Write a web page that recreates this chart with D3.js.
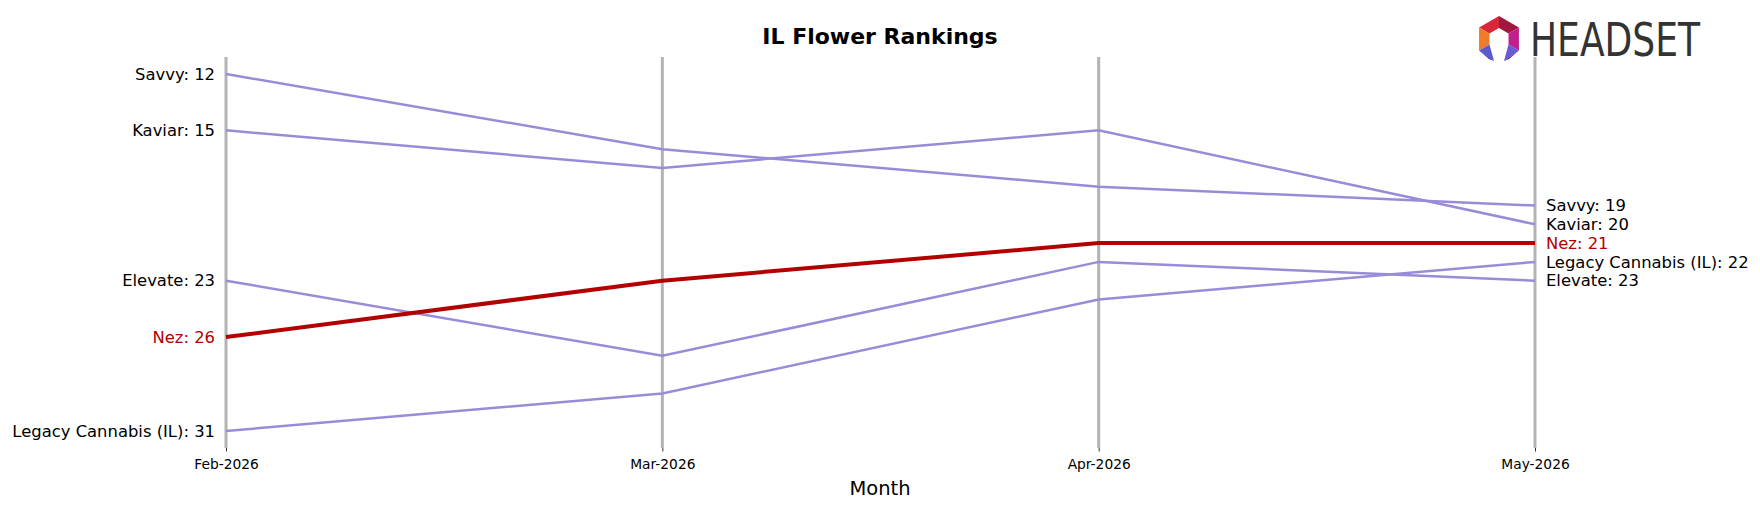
<!DOCTYPE html>
<html lang="en">
<head>
<meta charset="utf-8">
<title>IL Flower Rankings</title>
<script src="https://d3js.org/d3.v7.min.js"></script>
<style>
  body { margin: 0; background: #fff; }
  text { font-family: "DejaVu Sans", sans-serif; }
</style>
</head>
<body>
<svg id="chart"></svg>
<script>
    const months = ["Feb-2026", "Mar-2026", "Apr-2026", "May-2026"];
    const brands = ["Savvy", "Kaviar", "Elevate", "Nez", "Legacy Cannabis (IL)"];
    const savvyRanks = [12, 16, 18, 19];
    const kaviarRanks = [15, 17, 15, 20];
    const elevateRanks = [23, 27, 22, 23];
    const nezRanks = [26, 23, 21, 21];
    const legacyRanks = [31, 29, 24, 22];
    const highlight = "Nez";

    const ranks = [savvyRanks, kaviarRanks, elevateRanks, nezRanks, legacyRanks];
    const series = brands.map((b, i) => ({name: b, values: ranks[i]}));

    const width = 1760, height = 507;
    const plotTop = 57, plotBottom = 448;

    const svg = d3.select("#chart")
        .attr("width", width)
        .attr("height", height);

    let x = d3.scalePoint().domain(months).range([226, 1535]);
    let y = d3.scaleLinear().domain([12, 31]).range([74, 431]);

    // month guide lines
    svg.append("g").selectAll("line")
        .data(months)
        .join("line")
            .attr("x1", d => x(d)).attr("x2", d => x(d))
            .attr("y1", plotTop).attr("y2", plotBottom)
            .attr("stroke", "#b3b3b3")
            .attr("stroke-width", 3);

    // x axis
    let xAxis = d3.axisBottom(x).tickSize(3.5).tickPadding(8);
    let axisG = svg.append("g")
        .attr("transform", `translate(0,${plotBottom})`)
        .call(xAxis);
    axisG.select(".domain").remove();
    axisG.selectAll(".tick line").attr("stroke", "#333").attr("stroke-width", 1);
    axisG.selectAll(".tick text")
        .attr("font-family", "DejaVu Sans")
        .attr("font-size", 13.8)
        .attr("fill", "#000");

    svg.append("text")
        .attr("x", 880).attr("y", 495)
        .attr("text-anchor", "middle")
        .attr("font-size", 19.5)
        .text("Month");

    svg.append("text")
        .attr("x", 880).attr("y", 44)
        .attr("text-anchor", "middle")
        .attr("font-size", 22)
        .attr("font-weight", "bold")
        .text("IL Flower Rankings");

    let line = d3.line()
        .x((d, i) => x(months[i]))
        .y(d => y(d));

    const ordered = series.filter(s => s.name !== highlight)
        .concat(series.filter(s => s.name === highlight));

    svg.append("g").selectAll("path")
        .data(ordered)
        .join("path")
            .attr("d", d => line(d.values))
            .attr("fill", "none")
            .attr("stroke", d => d.name === highlight ? "#b30000" : "#9a8bd9")
            .attr("stroke-width", d => d.name === highlight ? 4 : 2.5);

    const colorOf = d => d.name === highlight ? "#b30000" : "#000";

    // left labels
    svg.append("g").selectAll("text")
        .data(series)
        .join("text")
            .attr("x", x(months[0]) - 11)
            .attr("y", d => y(d.values[0]))
            .attr("dy", "0.35em")
            .attr("text-anchor", "end")
            .attr("font-size", 16.4)
            .attr("fill", colorOf)
            .text(d => `${d.name}: ${d.values[0]}`);

    // right labels
    const last = months.length - 1;
    svg.append("g").selectAll("text")
        .data(series)
        .join("text")
            .attr("x", x(months[last]) + 11)
            .attr("y", d => y(d.values[last]))
            .attr("dy", "0.35em")
            .attr("text-anchor", "start")
            .attr("font-size", 16.4)
            .attr("fill", colorOf)
            .text(d => `${d.name}: ${d.values[last]}`);

    // Headset logo
    let logo = svg.append("g").attr("transform", "translate(1499,39)");
    const R = 23, r = 11;
    const pt = (rad, deg) => [rad * Math.cos(deg * Math.PI / 180), rad * Math.sin(deg * Math.PI / 180)];
    const segs = [
        {a: 210, b: 270, c: "#d9263a"},
        {a: 270, b: 330, c: "#a3173e"},
        {a: 330, b: 390, c: "#c01f8c"},
        {a: 150, b: 210, c: "#f07b2b"}
    ];
    segs.forEach(s => {
        logo.append("polygon")
            .attr("points", [pt(R, s.a), pt(R, s.b), pt(r, s.b), pt(r, s.a)].map(p => p.join(",")).join(" "))
            .attr("fill", s.c);
    });
    // lower legs
    logo.append("polygon")
        .attr("points", [pt(R, 150), pt(r, 150), [-5, 22]].map(p => p.join(",")).join(" "))
        .attr("fill", "#5a5ad0");
    logo.append("polygon")
        .attr("points", [pt(R, 150), [-5, 22], [-10, 20]].map(p => p.join(",")).join(" "))
        .attr("fill", "#2e2e8e");
    logo.append("polygon")
        .attr("points", [pt(R, 30), pt(r, 30), [5, 22]].map(p => p.join(",")).join(" "))
        .attr("fill", "#6a5ad6");
    logo.append("polygon")
        .attr("points", [pt(R, 30), [5, 22], [10, 20]].map(p => p.join(",")).join(" "))
        .attr("fill", "#2e2e8e");

    svg.append("text")
        .attr("x", 1530).attr("y", 56)
        .attr("font-family", "DejaVu Sans Condensed, DejaVu Sans")
        .attr("font-size", 46)
        .attr("fill", "#333")
        .attr("textLength", 170)
        .attr("lengthAdjust", "spacingAndGlyphs")
        .text("HEADSET");
</script>
</body>
</html>
